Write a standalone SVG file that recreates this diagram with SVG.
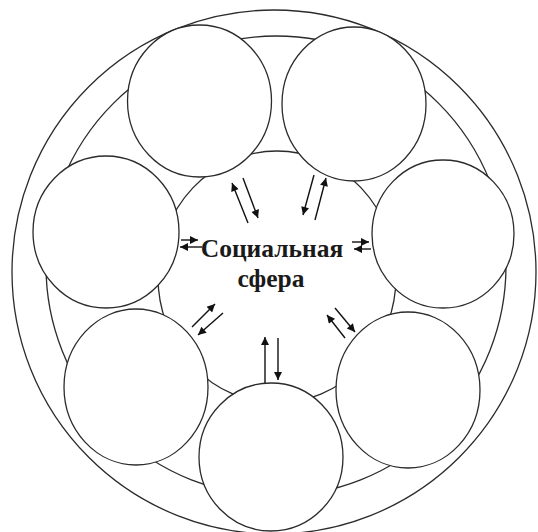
<svg xmlns="http://www.w3.org/2000/svg" width="538" height="532" viewBox="0 0 538 532">
<defs>
<style>
.ring{fill:none;stroke:#2b2b2b;stroke-width:1.3}
.node{fill:#fff;stroke:#2b2b2b;stroke-width:1.3}
.arr{stroke:#111;stroke-width:1.4;fill:none;marker-end:url(#ah)}
.lbl{font-family:"Liberation Serif","Times New Roman",serif;font-weight:bold;font-size:25.5px;fill:#1a1a1a;text-anchor:middle}
</style>
<marker id="ah" viewBox="0 0 10 10" refX="10" refY="5" markerUnits="userSpaceOnUse" markerWidth="10" markerHeight="8" orient="auto">
<path d="M0,0 L10,5 L0,10 z" fill="#111"/>
</marker>
</defs>
<rect width="538" height="532" fill="#fff"/>
<g id="rings">
<circle class="ring" cx="274" cy="272" r="262"/>
<circle class="ring" cx="276" cy="266" r="230"/>
<ellipse class="ring" cx="277" cy="277" rx="119" ry="126"/>
</g>
<g id="node-top-left"><ellipse class="node" cx="199.5" cy="101" rx="72" ry="76"/></g>
<g id="node-top-right"><ellipse class="node" cx="354" cy="104" rx="72" ry="77"/></g>
<g id="node-left"><ellipse class="node" cx="106" cy="232" rx="73" ry="76"/></g>
<g id="node-right"><ellipse class="node" cx="443" cy="234" rx="71" ry="74"/></g>
<g id="node-bottom-left"><ellipse class="node" cx="136" cy="387" rx="72" ry="78"/></g>
<g id="node-bottom-right"><ellipse class="node" cx="408" cy="390" rx="72" ry="78"/></g>
<g id="node-bottom"><ellipse class="node" cx="271" cy="457" rx="72" ry="74"/></g>
<g id="center">
<text class="lbl" x="272" y="257">Социальная</text>
<text class="lbl" x="271" y="287">сфера</text>
</g>
<g id="connectors">
<line class="arr" x1="248" y1="223" x2="232" y2="183"/>
<line class="arr" x1="243" y1="178" x2="258" y2="218"/>
<line class="arr" x1="314" y1="175" x2="303" y2="215"/>
<line class="arr" x1="315" y1="220" x2="326" y2="178"/>
<line class="arr" x1="181" y1="240" x2="198" y2="240"/>
<line class="arr" x1="202" y1="247" x2="180" y2="247"/>
<line class="arr" x1="352" y1="242" x2="369" y2="242"/>
<line class="arr" x1="371" y1="249" x2="354" y2="249"/>
<line class="arr" x1="192" y1="327" x2="215" y2="304"/>
<line class="arr" x1="223" y1="313" x2="198" y2="335"/>
<line class="arr" x1="265" y1="383" x2="265" y2="337"/>
<line class="arr" x1="278" y1="338" x2="278" y2="380"/>
<line class="arr" x1="345" y1="338" x2="327" y2="315"/>
<line class="arr" x1="335" y1="308" x2="355" y2="332"/>
</g>
</svg>
